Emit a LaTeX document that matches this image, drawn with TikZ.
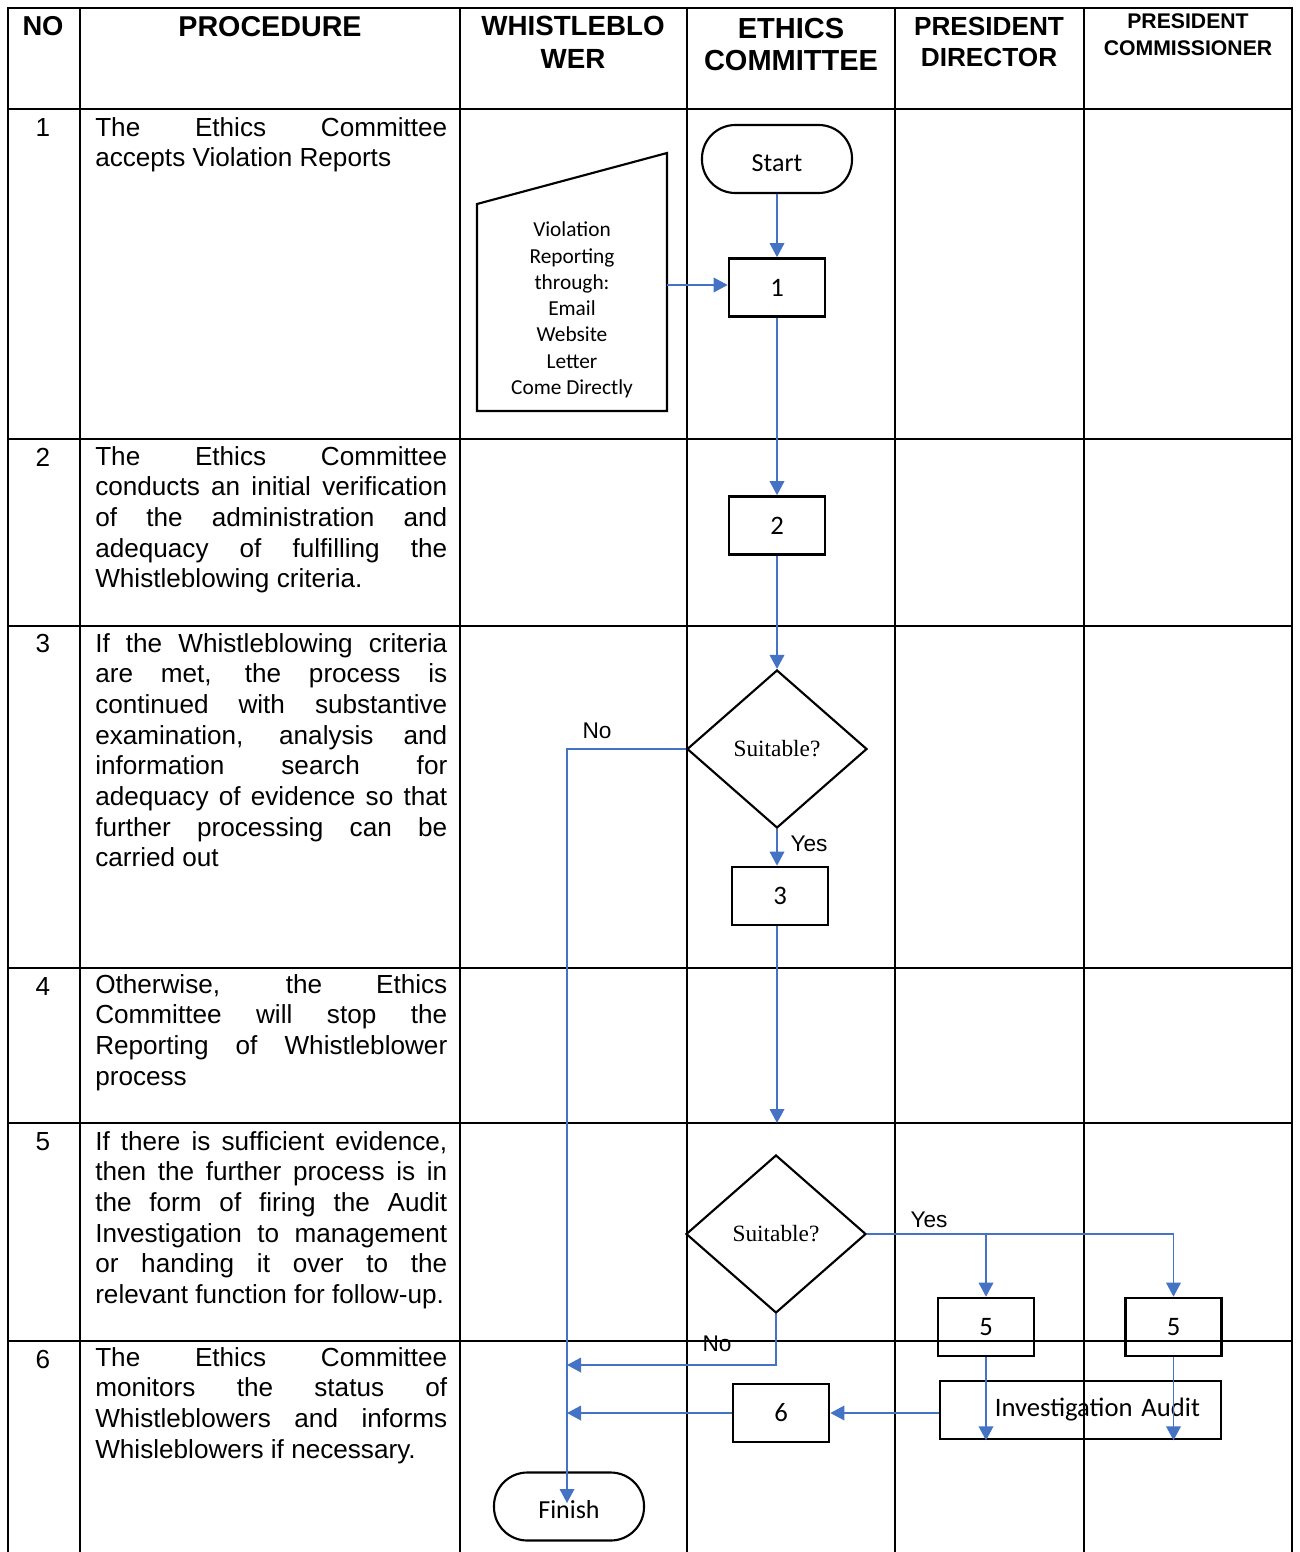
\documentclass[tikz,border=0pt]{standalone}
\usepackage{fontspec}
\setmainfont{Liberation Sans}
\newfontfamily\flowfont{Carlito}
\newfontfamily\seriffont{Liberation Serif}
\usepackage{tikz}
\usetikzlibrary{arrows.meta,shapes.geometric}
\definecolor{flowblue}{RGB}{68,114,196}

\begin{document}
\begin{tikzpicture}[x=0.75pt,y=0.75pt,yscale=-1,xscale=1,
  grid/.style={line width=1.5pt,line cap=rect},
  head/.style={align=center,inner sep=0},
  num/.style={inner sep=0,font=\fontsize{19.6}{23}\selectfont},
  proc/.style={anchor=north west,inner sep=0,text width=264pt,align=justify,
    font=\fontsize{19.6}{23}\selectfont,
    execute at begin node={\tolerance=10000\hyphenpenalty=10000}},
  box/.style={draw,line width=2pt,minimum width=72pt,minimum height=43.5pt,inner sep=0,
    font=\flowfont\fontsize{20}{24}\selectfont},
  terminal/.style={draw,line width=1.6pt,rounded corners=25pt,minimum width=112.5pt,
    minimum height=51pt,inner sep=0,text height=18.4pt,text depth=0pt,
    font=\flowfont\fontsize{19.5}{23}\selectfont},
  decision/.style={draw,diamond,line width=1.6pt,minimum width=135pt,minimum height=118.5pt,
    inner sep=0,font=\seriffont\fontsize{17.5}{21}\selectfont},
  flow/.style={flowblue,line width=1pt,-{Triangle[length=10.5pt,width=11pt]}},
  tag/.style={inner sep=0,font=\fontsize{17}{20}\selectfont}]
\useasboundingbox (0,0) rectangle (1299,1552);

%Straight Lines: table rows
\draw[grid] (8,8) -- (1292,8);
\draw[grid] (8,109) -- (1292,109);
\draw[grid] (8,439) -- (1292,439);
\draw[grid] (8,626) -- (1292,626);
\draw[grid] (8,968) -- (1292,968);
\draw[grid] (8,1123) -- (1292,1123);
\draw[grid] (8,1341) -- (1292,1341);
%Straight Lines: table columns
\draw[grid] (8,8) -- (8,1552);
\draw[grid] (80,8) -- (80,1552);
\draw[grid] (460,8) -- (460,1552);
\draw[grid] (687,8) -- (687,1552);
\draw[grid] (895,8) -- (895,1552);
\draw[grid] (1084,8) -- (1084,1552);
\draw[grid] (1292,8) -- (1292,1552);

% Header
\node[head,font=\bfseries\fontsize{20.5}{24}\selectfont] (hNo) at (43,26.5) {NO};
\node[head,font=\bfseries\fontsize{21.5}{24}\selectfont] (hProc) at (270,26.5) {PROCEDURE};
\node[head,font=\bfseries\fontsize{20.8}{24.75}\selectfont] (hWhistle) at (573,42) {WHISTLEBLO\\WER};
\node[head,font=\bfseries\fontsize{21.75}{24.4}\selectfont] (hEthics) at (791,44.5) {ETHICS\\COMMITTEE};
\node[head,font=\bfseries\fontsize{19.65}{23.25}\selectfont] (hDirector) at (989,41.5) {PRESIDENT\\DIRECTOR};
\node[head,font=\bfseries\fontsize{15.9}{20.25}\selectfont] (hCommissioner) at (1188,34.5) {PRESIDENT\\COMMISSIONER};

% Step numbers
\node[num] (n1) at (43,128) {1};
\node[num] (n2) at (43,457) {2};
\node[num] (n3) at (43,643) {3};
\node[num] (n4) at (43,986) {4};
\node[num] (n5) at (43,1142) {5};
\node[num] (n6) at (43,1359) {6};

% Procedure texts
\node[proc] (p1) at (95,117) {The Ethics Committee\linebreak accepts Violation Reports};
\node[proc] (p2) at (95,446) {The Ethics Committee\linebreak conducts an initial verification\linebreak of the administration and\linebreak adequacy of fulfilling the\linebreak Whistleblowing criteria.};
\node[proc] (p3) at (95,633) {If the Whistleblowing criteria\linebreak are met, the process is\linebreak continued with substantive\linebreak examination, analysis and\linebreak information search for\linebreak adequacy of evidence so that\linebreak further processing can be\linebreak carried out};
\node[proc] (p4) at (95,974) {Otherwise, the Ethics\linebreak Committee will stop the\linebreak Reporting of Whistleblower\linebreak process};
\node[proc] (p5) at (95,1131) {If there is sufficient evidence,\linebreak then the further process is in\linebreak the form of firing the Audit\linebreak Investigation to management\linebreak or handing it over to the\linebreak relevant function for follow-up.};
\node[proc] (p6) at (95,1347) {The Ethics Committee\linebreak monitors the status of\linebreak Whistleblowers and informs\linebreak Whisleblowers if necessary.};

%Shape: Manual Input
\draw[line width=1.6pt] (477,204) -- (667,153) -- (667,411) -- (477,411) -- cycle;
\node[head,font=\flowfont\fontsize{16}{19.7}\selectfont] (report) at (572,310) {Violation\\Reporting\\through:\\Email\\Website\\Letter\\Come Directly};
\coordinate (reportout) at (667,285);

% Flow nodes
\node[terminal] (start) at (777,159) {Start};
\node[box] (b1) at (777,287.5) {1};
\node[box] (b2) at (777,525.5) {2};
\node[decision] (d1) at (777,749) {Suitable?};
\node[box] (b3) at (780,896) {3};
\coordinate (gap4) at (777,1123);
\node[decision] (d2) at (776,1234) {Suitable?};
\node[box] (b5a) at (986,1327) {5};
\node[box] (b5b) at (1173.5,1327) {5};
\node[box,minimum width=210.75pt,inner xsep=15.75pt,text width=179.25pt,align=right] (audit) at (1080.5,1410) {Investigation Audit};
\node[box] (b6) at (781,1413) {6};
\node[terminal] (finish) at (569,1506.5) {Finish};
\coordinate (finin) at (567,1503);
\coordinate (noin) at (567,1365);

% Labels
\node[tag] (no1) at (597,731) {No};
\node[tag] (yes1) at (809,844) {Yes};
\node[tag] (yes2) at (929,1220) {Yes};
\node[tag] (no2) at (717,1344) {No};

% Connectors
\draw[flow] (start) -- (b1);
\draw[flow] (reportout) -- (reportout -| b1.west);
\draw[flow] (b1) -- (b2);
\draw[flow] (b2) -- (d1.north);
\draw[flow] (d1.west) -| (finin);
\draw[flow] (d1.south) -- (d1.south |- b3.north);
\draw[flow] (gap4 |- b3.south) -- (gap4);
\draw[flow] (d2.east) -| (b5a.north);
\draw[flow] (d2.east) -| (b5b.north);
\draw[flow] (b5a.south) -- (b5a.south |- audit.south);
\draw[flow] (b5b.south) -- (b5b.south |- audit.south);
\draw[flow] (audit.west |- b6) -- (b6.east);
\draw[flow] (b6.west) -- (b6.west -| finin);
\draw[flow] (d2.south) |- (noin);

\end{tikzpicture}
\end{document}
